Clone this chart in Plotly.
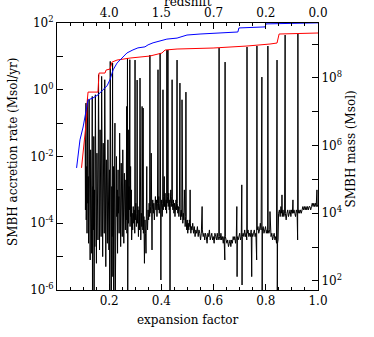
import numpy as np
import plotly.graph_objects as go

# ---------------- data ----------------
# black: SMBH accretion rate, log10(Msol/yr), vs expansion factor
acc_a = [
    0.108, 0.109, 0.111, 0.112, 0.114, 0.115, 0.117, 0.118, 0.120, 0.121, 0.123, 0.124, 0.126, 0.127,
    0.129, 0.130, 0.132, 0.133, 0.135, 0.136, 0.138, 0.139, 0.141, 0.142, 0.144, 0.145, 0.147, 0.148,
    0.150, 0.151, 0.153, 0.154, 0.156, 0.157, 0.159, 0.160, 0.162, 0.163, 0.165, 0.166, 0.168, 0.169,
    0.171, 0.172, 0.174, 0.175, 0.177, 0.178, 0.180, 0.181, 0.183, 0.184, 0.186, 0.187, 0.189, 0.190,
    0.192, 0.193, 0.195, 0.196, 0.198, 0.199, 0.201, 0.202, 0.204, 0.205, 0.207, 0.208, 0.210, 0.211,
    0.213, 0.214, 0.216, 0.217, 0.219, 0.220, 0.222, 0.223, 0.225, 0.226, 0.228, 0.229, 0.231, 0.232,
    0.234, 0.235, 0.237, 0.238, 0.240, 0.241, 0.243, 0.244, 0.246, 0.247, 0.249, 0.250, 0.252, 0.253,
    0.255, 0.256, 0.258, 0.259, 0.261, 0.262, 0.264, 0.265, 0.267, 0.268, 0.270, 0.271, 0.273, 0.274,
    0.276, 0.277, 0.279, 0.280, 0.282, 0.283, 0.285, 0.286,
    0.288, 0.290, 0.292, 0.294, 0.296, 0.298, 0.299, 0.300, 0.302, 0.304, 0.306, 0.307, 0.308, 0.310,
    0.312, 0.314, 0.316, 0.318, 0.319, 0.321, 0.323, 0.325, 0.326, 0.327, 0.329, 0.330, 0.331, 0.333,
    0.335, 0.337, 0.339, 0.341, 0.342, 0.344, 0.345, 0.347, 0.349, 0.351, 0.353, 0.355, 0.356, 0.357,
    0.359, 0.361, 0.362, 0.364, 0.365, 0.367, 0.369, 0.371, 0.373, 0.375, 0.377, 0.379, 0.381, 0.383,
    0.385, 0.387, 0.388, 0.390, 0.392, 0.394, 0.395, 0.396, 0.398, 0.399, 0.401, 0.403, 0.405, 0.406,
    0.407, 0.409, 0.411, 0.412, 0.414, 0.416, 0.418, 0.420, 0.421, 0.422, 0.424, 0.425, 0.426, 0.428,
    0.430, 0.432, 0.433, 0.434, 0.436, 0.438, 0.440, 0.441, 0.442, 0.444, 0.446, 0.448, 0.450, 0.452,
    0.454, 0.456, 0.458, 0.460, 0.461, 0.463, 0.465, 0.467, 0.469, 0.471, 0.472, 0.474, 0.476, 0.478,
    0.479, 0.480, 0.482, 0.484, 0.486, 0.488, 0.489, 0.491, 0.493, 0.494, 0.495, 0.497, 0.499, 0.501,
    0.503, 0.505, 0.507, 0.509, 0.510, 0.511, 0.513, 0.515,
    0.517, 0.520, 0.523, 0.526, 0.529, 0.532, 0.535, 0.538, 0.541, 0.544, 0.547, 0.550, 0.553, 0.556,
    0.557, 0.560, 0.563, 0.566, 0.569, 0.572, 0.575, 0.578, 0.581, 0.584, 0.587, 0.590, 0.593, 0.596,
    0.599, 0.602, 0.605, 0.608, 0.611, 0.614, 0.617, 0.620, 0.621, 0.622, 0.625, 0.628, 0.631, 0.634,
    0.637, 0.640, 0.643, 0.644, 0.645, 0.648, 0.651, 0.654, 0.657, 0.660, 0.663, 0.666, 0.669, 0.672,
    0.675, 0.678, 0.681, 0.684, 0.687, 0.689, 0.690, 0.691, 0.694, 0.697, 0.700, 0.703, 0.706, 0.708,
    0.709, 0.710, 0.713, 0.716, 0.719, 0.722, 0.725, 0.727, 0.728, 0.729, 0.732, 0.735, 0.738, 0.741,
    0.744, 0.746, 0.747, 0.750, 0.753, 0.756, 0.759, 0.762, 0.765, 0.766, 0.767, 0.770, 0.773, 0.776,
    0.779, 0.782, 0.785, 0.786, 0.787, 0.790, 0.793, 0.796, 0.799, 0.802, 0.805, 0.807, 0.808, 0.809,
    0.812, 0.815, 0.816, 0.817, 0.820, 0.823, 0.826, 0.829, 0.832, 0.835, 0.838, 0.841, 0.843, 0.844,
    0.845, 0.847, 0.849,
    0.852, 0.855, 0.858, 0.861, 0.862, 0.863, 0.866, 0.869, 0.872, 0.874, 0.875, 0.878, 0.881, 0.884,
    0.887, 0.890, 0.893, 0.896, 0.899, 0.902, 0.904, 0.905, 0.908, 0.911, 0.914, 0.917, 0.920, 0.922,
    0.923, 0.924, 0.927, 0.930, 0.933, 0.936, 0.939, 0.942, 0.945, 0.948, 0.951, 0.954, 0.957, 0.960,
    0.963, 0.966, 0.969, 0.972, 0.975, 0.978, 0.981, 0.984, 0.987, 0.990, 0.993, 0.996, 0.997, 1.000,
]
acc_log = [
    -1.50, -3.60, -0.40, -3.90, -2.30, -4.30, -0.25, -3.40, -2.60, -4.60, -0.30, -3.80, -2.90, -5.10,
    -1.80, -3.50, -2.60, -4.90, -0.20, -6.50, -2.90, -4.20, -1.40, -6.50, -3.00, -4.70, -0.15, -3.90,
    -2.70, -5.20, -1.90, -3.60, -2.90, -4.50, 0.45, -3.70, -2.40, -4.80, -1.20, -3.30, -2.80, -4.40,
    0.40, -3.90, -2.60, -5.00, -1.60, -3.50, -2.80, -4.30, 0.30, -3.80, -3.00, -5.30, -2.10, -3.70,
    -2.90, -4.60, -1.50, -3.90, -3.10, -4.80, -2.40, -6.50, 0.85, -4.10, -2.00, -6.50, -2.90, -4.40,
    0.80, -5.60, -2.30, -6.50, -3.10, -4.00, -1.00, -6.50, -2.80, -4.60, -2.00, -3.80, -3.00, -4.90,
    -2.40, -3.70, -3.20, -4.30, -1.30, -3.90, -2.90, -4.70, -2.20, -3.60, -3.10, -4.40, -1.80, -3.80,
    -2.90, -4.60, -2.50, -3.70, -3.20, -4.20, -2.70, -3.90, -0.50, -4.30, 0.95, -6.50, -1.20, -4.00,
    -2.90, -3.60, 0.90, -4.10, -2.30, -3.80, -3.00, -4.50,
    -3.70, -4.20, -3.50, -4.00, -3.60, -4.30, 0.89, -3.90, -3.40, -4.10, -3.70, 0.29, -4.00, -3.50,
    -4.40, -3.60, -4.20, 0.35, -3.80, -4.50, -3.70, -4.10, -0.50, -3.90, -4.20, -0.55, -4.30, -3.80,
    -5.20, -3.90, -4.30, -4.90, -3.70, -2.30, -3.80, -4.20, -3.60, -3.90, -3.40, -3.80, 1.04, -3.70,
    -3.50, -1.90, -3.80, -4.80, -3.60, -3.30, -3.70, -3.40, -3.90, -3.50, -3.20, -3.60, -3.30, -3.80,
    -3.40, 0.60, -3.60, -3.20, -3.70, -3.40, 1.10, -3.50, -5.70, -3.60, -3.30, -3.80, -3.40, 0.00,
    -3.60, -3.20, -2.60, -3.50, -3.10, -3.60, -3.30, -3.70, 1.19, -3.40, -3.20, 1.19, -3.50, -3.10,
    -3.60, -3.30, -6.50, -3.40, -3.00, -3.50, -3.20, 0.30, -3.40, -3.60, -3.30, -3.70, -3.40, -3.80,
    -3.50, -3.30, -3.60, 0.89, -3.40, -3.70, -3.50, -3.80, -3.50, 0.20, -3.60, -3.90, -3.60, -3.80,
    -0.30, -3.70, -4.00, -3.70, -3.90, -3.00, -3.80, -4.10, -3.80, -0.07, -3.90, -4.20, -3.90, -4.30,
    -4.00, -4.20, -3.90, -4.10, -3.00, -4.00, -4.30, -4.10,
    -4.20, -4.00, -4.30, -4.10, -4.40, -4.20, -4.30, -4.10, -4.40, -4.20, -4.30, -4.50, -4.30, -3.50,
    -4.20, -4.40, -4.30, -4.50, -4.30, -4.40, -4.60, -4.30, -4.40, -4.20, -4.50, -4.40, -4.30, -4.50,
    -4.40, -4.60, -4.30, -4.40, -4.50, -4.30, -4.50, -4.40, 1.25, -4.40, -4.50, -4.30, -4.50, -4.40,
    -4.60, -4.40, -5.10, 0.83, -4.40, -4.50, -4.60, -4.50, -4.70, -4.60, -4.50, -4.70, -4.50, -4.60,
    -4.40, -4.50, -4.40, -4.60, -4.40, -3.50, -5.60, -4.40, -4.50, -4.40, -4.30, -4.50, -4.40, -2.85,
    -5.85, -4.40, -4.30, -4.40, -4.20, -4.40, -4.30, -4.50, 1.28, -4.30, -4.20, -4.40, -4.30, -4.40,
    -4.20, -5.60, -4.30, -4.40, -4.30, -4.20, -4.40, -4.30, -5.10, 1.31, -4.20, -4.10, -4.30, -4.20,
    -4.00, -4.20, 0.38, -6.50, -4.20, -4.10, -4.30, -4.20, -4.10, -4.30, -4.20, -4.30, 1.31, -4.20,
    -4.30, -4.20, -3.65, -4.30, -4.40, -4.30, -4.50, -4.40, -4.30, -4.50, -4.40, -4.60, 0.89, -6.50,
    -4.60, -4.50, -3.70,
    -3.60, -3.80, -3.50, -3.70, -3.15, -3.80, -3.60, -3.80, -3.70, 1.64, -3.70, -3.90, -3.70, -3.60,
    -3.80, -3.70, -3.60, -3.80, -3.60, -3.70, -3.30, -3.70, -3.60, -3.70, -3.80, -3.60, -3.70, -4.50,
    1.67, -3.70, -3.60, -3.70, -3.60, -3.70, -3.60, -3.50, -3.60, -3.50, -3.60, -3.50, -3.60, -3.50,
    -3.60, -3.50, -3.50, -3.60, -3.50, -3.40, -3.50, -3.40, -3.50, -3.40, -3.50, -3.00, -3.50, -3.45,
]

# red: log10 rate (left axis)
red_a = [0.094, 0.100, 0.107, 0.114, 0.115, 0.119, 0.157, 0.161, 0.184, 0.188, 0.203, 0.211, 0.230,
         0.280, 0.356, 0.402, 0.414, 0.460, 0.598, 0.690, 0.728, 0.816, 0.843, 0.851, 1.000]
red_log = [-2.34, -1.86, -1.20, -0.81, -0.40, -0.07, -0.07, 0.50, 0.50, 0.59, 0.62, 0.83, 0.89,
           0.95, 1.01, 1.10, 1.19, 1.22, 1.25, 1.28, 1.31, 1.37, 1.40, 1.67, 1.70]

# blue: log10 SMBH mass (Msol, right axis)
blue_a = [0.075, 0.081, 0.088, 0.100, 0.111, 0.119, 0.138, 0.157, 0.176, 0.192, 0.203, 0.215, 0.230,
          0.249, 0.268, 0.291, 0.310, 0.337, 0.349, 0.368, 0.395, 0.421, 0.460, 0.498, 0.548, 0.625,
          0.693, 0.697, 0.797, 0.801, 1.000]
blue_logm = [5.34, 5.81, 6.17, 6.55, 6.99, 7.35, 7.41, 7.50, 7.65, 7.77, 7.95, 8.24, 8.44,
             8.59, 8.74, 8.83, 8.89, 8.92, 8.98, 9.04, 9.10, 9.15, 9.18, 9.27, 9.30, 9.33,
             9.36, 9.48, 9.51, 9.60, 9.63]

x_ticks = [0.2, 0.4, 0.6, 0.8, 1.0]
x_ticktext = ["0.2", "0.4", "0.6", "0.8", "1.0"]
z_ticktext = ["4.0", "1.5", "0.7", "0.2", "0.0"]
rate_exps = [-6, -5, -4, -3, -2, -1, 0, 1, 2]
mass_exps = [2, 3, 4, 5, 6, 7, 8, 9]

# ---------------- figure ----------------
FONT = "DejaVu Serif"

def powlabel(e, every):
    return f"10<sup>{e}</sup>" if e % every == 0 else ""

fig = go.Figure()
fig.add_trace(go.Scatter(x=acc_a, y=np.power(10.0, acc_log), mode="lines",
                         line=dict(color="black", width=1), xaxis="x", yaxis="y"))
fig.add_trace(go.Scatter(x=red_a, y=np.power(10.0, red_log), mode="lines",
                         line=dict(color="#ff0000", width=1), xaxis="x", yaxis="y"))
fig.add_trace(go.Scatter(x=blue_a, y=np.power(10.0, blue_logm), mode="lines",
                         line=dict(color="#0000ff", width=1), xaxis="x2", yaxis="y2"))

axis_common = dict(showline=True, linecolor="black", linewidth=1, ticks="inside",
                   tickcolor="black", showgrid=False, zeroline=False,
                   tickfont=dict(family=FONT, size=12, color="black"))

fig.update_layout(
    width=374, height=337,
    margin=dict(l=57, r=56, t=23, b=47, autoexpand=False),
    paper_bgcolor="white", plot_bgcolor="white",
    showlegend=False,
    xaxis=dict(range=[0, 1.0], tickvals=x_ticks, ticktext=x_ticktext, ticklen=6,
               minor=dict(dtick=0.05, tick0=0, ticklen=3, ticks="inside", tickcolor="black"),
               anchor="y", side="bottom", **axis_common),
    xaxis2=dict(range=[0, 1.0], tickvals=x_ticks, ticktext=z_ticktext, ticklen=6,
                minor=dict(dtick=0.05, tick0=0, ticklen=3, ticks="inside", tickcolor="black"),
                overlaying="x", side="top", anchor="y2", **axis_common),
    yaxis=dict(type="log", range=[-6, 2], ticklen=6,
               tickvals=[10.0 ** e for e in rate_exps],
               ticktext=[powlabel(e, 2) for e in rate_exps],
               anchor="x", side="left", **axis_common),
    yaxis2=dict(type="log", range=[1.73, 9.626], ticklen=6,
                tickvals=[10.0 ** e for e in mass_exps],
                ticktext=[powlabel(e, 2) for e in mass_exps],
                overlaying="y", side="right", anchor="x2", **axis_common),
    annotations=[
        dict(text="SMBH accretion rate (Msol/yr)", xref="paper", yref="paper",
             x=-0.169, y=0.52, textangle=-90, showarrow=False, xanchor="center", yanchor="middle",
             font=dict(family=FONT, size=12, color="black")),
        dict(text="SMBH mass (Msol)", xref="paper", yref="paper",
             x=1.13, y=0.53, textangle=-90, showarrow=False, xanchor="center", yanchor="middle",
             font=dict(family=FONT, size=12, color="black")),
        dict(text="expansion factor", xref="paper", yref="paper",
             x=0.5, y=-0.112, showarrow=False, xanchor="center", yanchor="middle",
             font=dict(family=FONT, size=12, color="black")),
        dict(text="redshift", xref="paper", yref="paper",
             x=0.5, y=1.08, showarrow=False, xanchor="center", yanchor="middle",
             font=dict(family=FONT, size=12, color="black")),
    ],
)

# remove the browser's default 8 px page margin so the figure sits at the window corner
fig.write_html("out.html", config={"displayModeBar": False},
               post_script="document.body.style.margin='0';")
